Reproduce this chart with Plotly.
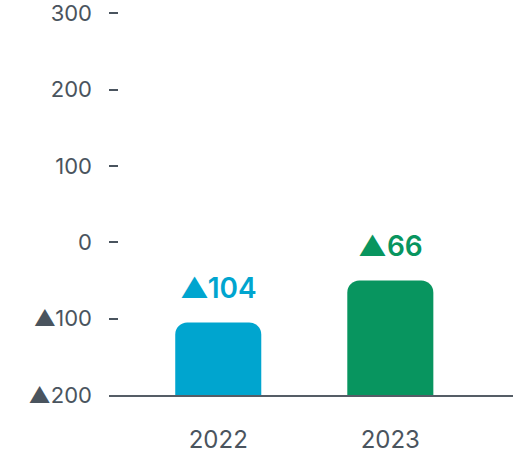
import plotly.graph_objects as go

# data
years = ["2022", "2023"]
bar_tops = [-105, -50]          # where each bar ends on the y scale
bar_labels = ["▲104", "▲66"]
bar_colors = ["#00a5cf", "#08955f"]
y_ticks = [300, 200, 100, 0, -100, -200]
y_tick_text = ["300", "200", "100", "0", "▲100", "▲200"]

# the bars stand on the bottom line (-200); plot everything shifted by it
# so that only the top corners get rounded
floor = -200
grey = "#4a545e"

fig = go.Figure(go.Bar(
    x=years,
    y=[v - floor for v in bar_tops],
    width=0.5,
    marker=dict(color=bar_colors, cornerradius=12, line=dict(width=0)),
    hoverinfo="skip",
))

for i, (top, lab, col) in enumerate(zip(bar_tops, bar_labels, bar_colors)):
    fig.add_annotation(
        x=i, y=top - floor, text=lab, showarrow=False,
        yanchor="middle", yshift=35,
        font=dict(family="Inter", size=28, color=col, weight=600),
    )

fig.update_layout(
    width=513, height=453,
    margin=dict(l=109, r=0, t=5, b=58),
    paper_bgcolor="white", plot_bgcolor="white",
    showlegend=False,
    font=dict(family="Inter", color=grey),
    xaxis=dict(
        type="category",
        range=[-0.635, 1.713],
        showgrid=False, zeroline=False,
        showline=True, linecolor="#555d66", linewidth=2,
        ticks="", ticklabelstandoff=22,
        tickfont=dict(size=24, color=grey),
    ),
    yaxis=dict(
        range=[0, 511],
        tickvals=[t - floor for t in y_ticks], ticktext=y_tick_text,
        showgrid=False, zeroline=False, showline=False,
        ticks="inside", ticklen=9, tickwidth=1.5, tickcolor=grey,
        ticklabelstandoff=16, ticklabeloverflow="allow",
        tickfont=dict(size=22, color=grey),
    ),
)

fig.write_html("out.html", config={"displayModeBar": False},
               post_script="document.body.style.margin='0';")
